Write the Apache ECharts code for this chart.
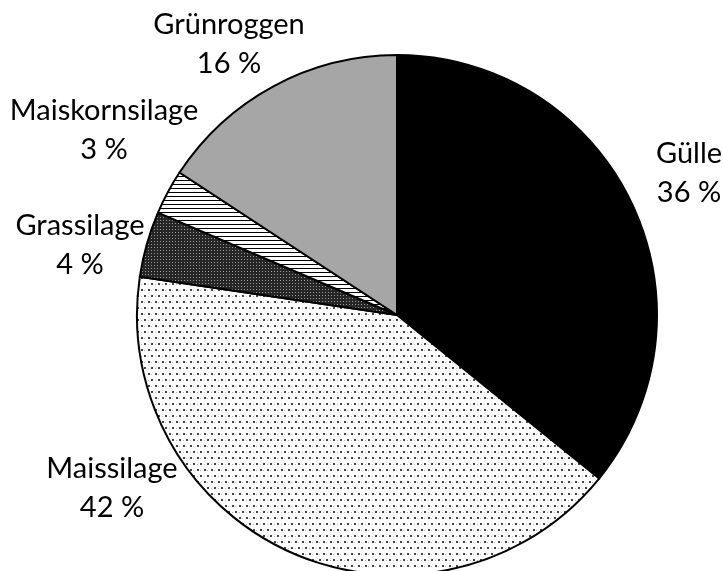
<!DOCTYPE html>
<html lang="de">
<head>
    <meta charset="UTF-8">
    <title>Substrateinsatz</title>
    <script src="https://cdn.jsdelivr.net/npm/echarts@6/dist/echarts.min.js"></script>
    <style>
        html, body { margin: 0; padding: 0; background: #fff; }
        #pie-chart { width: 723px; height: 571px; }
    </style>
</head>
<body>
<div id="pie-chart"></div>

<script>
    // Anteile, im Uhrzeigersinn ab 12 Uhr
    var categories = ['Gülle', 'Maissilage', 'Grassilage', 'Maiskornsilage', 'Grünroggen'];
    var shares = [35.9, 41.6, 4.1, 2.8, 15.8];

    // Beschriftungs-Mittelpunkte (px), gleiche Reihenfolge wie categories
    var labelSpots = [[689, 173], [112, 488], [80, 245], [104, 130], [229, 44]];

    function makeTile(w, h, bg, draw) {
        var c = document.createElement('canvas');
        c.width = w;
        c.height = h;
        var ctx = c.getContext('2d');
        ctx.fillStyle = bg;
        ctx.fillRect(0, 0, w, h);
        draw(ctx);
        return {image: c, repeat: 'repeat'};
    }

    // Punktraster hell (Maissilage)
    var dotsLight = makeTile(7, 12, '#fff', function (ctx) {
        ctx.fillStyle = '#444';
        ctx.fillRect(1, 1, 2, 2);
        ctx.fillRect(4, 7, 2, 2);
        ctx.fillStyle = '#bbb';
        ctx.fillRect(4, 2, 1, 1);
        ctx.fillRect(1, 8, 1, 1);
    });
    // Punktraster dunkel (Grassilage)
    var dotsDark = makeTile(3, 3, '#262626', function (ctx) {
        ctx.fillStyle = '#9a9a9a';
        ctx.fillRect(1, 1, 1, 1);
    });
    // waagerechte Streifen (Maiskornsilage)
    var stripes = makeTile(4, 4, '#fff', function (ctx) {
        ctx.fillStyle = '#000';
        ctx.fillRect(0, 0, 4, 1);
    });

    var fills = ['#000000', dotsLight, dotsDark, stripes, '#a6a6a6'];

    var pieData = [];
    for (var i = 0; i < categories.length; i++) {
        pieData.push({
            name: categories[i],
            value: shares[i],
            itemStyle: {color: fills[i]}
        });
    }

    var myChart = echarts.init(document.getElementById('pie-chart'));
    var option = {
        animation: false,
        backgroundColor: '#fff',
        series: [{
            type: 'pie',
            center: [397, 315],
            radius: 260,
            startAngle: 90,
            clockwise: true,
            avoidLabelOverlap: false,
            itemStyle: {borderColor: '#000', borderWidth: 2},
            label: {
                show: true,
                position: 'outside',
                color: '#000',
                fontFamily: 'Lato',
                fontSize: 29,
                lineHeight: 39,
                align: 'center',
                formatter: function (p) {
                    return p.name + '\n' + Math.round(p.value) + ' %';
                }
            },
            labelLine: {show: false},
            labelLayout: function (params) {
                var s = labelSpots[params.dataIndex];
                return {x: s[0], y: s[1], align: 'center', verticalAlign: 'middle'};
            },
            emphasis: {disabled: true},
            data: pieData
        }]
    };
    myChart.setOption(option);
</script>

</body>
</html>
